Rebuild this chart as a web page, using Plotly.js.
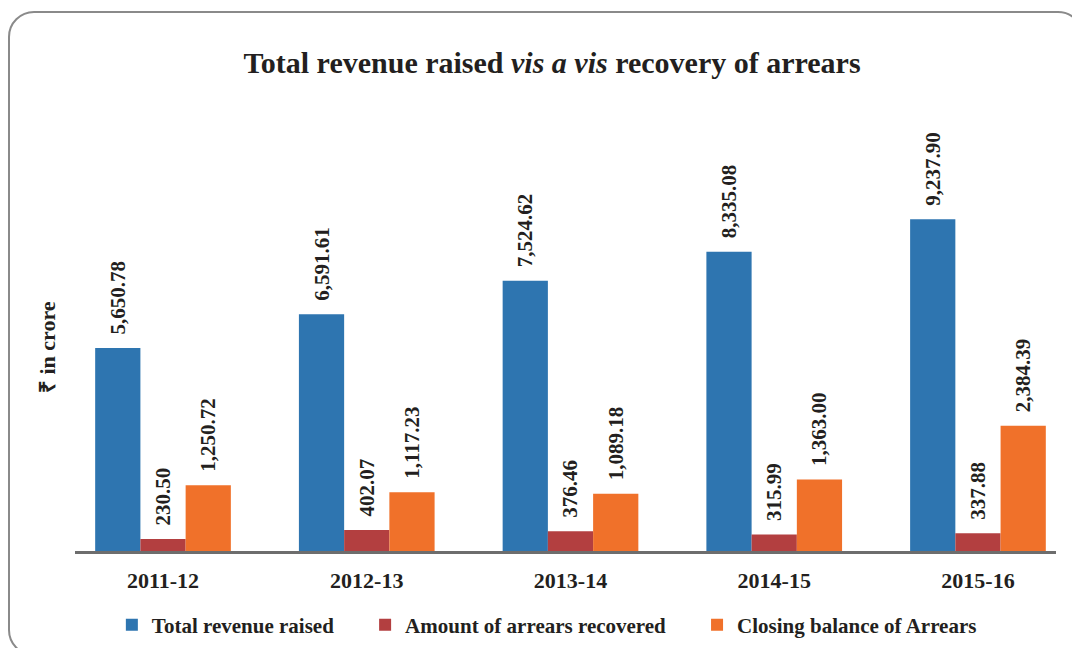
<!DOCTYPE html>
<html>
<head>
<meta charset="utf-8">
<script src="https://cdn.plot.ly/plotly-3.0.1.min.js"></script>
<style>
  html, body { margin: 0; padding: 0; background: #ffffff; }
  #wrap { position: relative; width: 1072px; height: 648px; overflow: hidden; }
  #frame { position: absolute; left: 8px; top: 11px; width: 1076px; height: 645px;
           border: 2.5px solid #8a8a8a; border-radius: 26px; box-sizing: border-box; }
  #chart { position: absolute; left: 0; top: 0; width: 1072px; height: 648px; }
</style>
</head>
<body>
<div id="wrap">
  <div id="frame"></div>
  <div id="chart"></div>
</div>
<script>
const categories = ["2011-12", "2012-13", "2013-14", "2014-15", "2015-16"];
const totalRevenue = [5650.78, 6591.61, 7524.62, 8335.08, 9237.90];
const arrearsRecovered = [230.50, 402.07, 376.46, 315.99, 337.88];
const closingBalance = [1250.72, 1117.23, 1089.18, 1363.00, 2384.39];
const seriesNames = ["Total revenue raised", "Amount of arrears recovered", "Closing balance of Arrears"];
const seriesColors = ["#2e75b0", "#b33f40", "#f0712a"];

const fmt = v => v.toLocaleString("en-US", {minimumFractionDigits: 2, maximumFractionDigits: 2});
const serif = "Liberation Serif";
const ink = "#231f20";
const NB = "\u00a0";

// the reference draws the small series on a larger scale than the revenue bars
const seriesValues = [totalRevenue, arrearsRecovered, closingBalance];
const seriesAxis = ["y", "y2", "y2"];
const barW = 0.222;
const traces = seriesValues.map((vals, i) => ({
  type: "bar",
  name: seriesNames[i] + (i < seriesNames.length - 1 ? NB.repeat(5) : ""),
  x: categories,
  y: vals,
  yaxis: seriesAxis[i],
  width: barW,
  offset: -1.5 * barW + i * barW,
  text: vals.map(v => NB + NB + fmt(v)),
  texttemplate: "%{text}",
  textposition: "outside",
  textangle: -90,
  constraintext: "none",
  cliponaxis: false,
  outsidetextfont: {family: serif, size: 21, color: ink, weight: "bold"},
  marker: {color: seriesColors[i], line: {width: 0}},
  hoverinfo: "skip"
}));

const layout = {
  width: 1072, height: 648,
  paper_bgcolor: "rgba(0,0,0,0)",
  plot_bgcolor: "rgba(0,0,0,0)",
  margin: {l: 75, r: 16, t: 90, b: 97, autoexpand: false},
  barmode: "overlay",
  title: {
    text: "Total revenue raised <i>vis a vis</i> recovery of arrears",
    font: {family: serif, size: 30, color: ink, weight: "bold"},
    x: 0.515, xref: "container", xanchor: "center",
    y: 1 - 62/648, yref: "container", yanchor: "middle"
  },
  xaxis: {
    type: "category",
    range: [-0.432, 4.383],
    showline: true, linecolor: "#6d6d6d", linewidth: 2.5,
    ticks: "", showgrid: false, zeroline: false,
    ticklabelstandoff: 8,
    tickfont: {family: serif, size: 22, color: ink, weight: "bold"}
  },
  yaxis: {
    range: [0, 12840],
    showline: false, showgrid: false, zeroline: false,
    showticklabels: false, ticks: ""
  },
  yaxis2: {
    overlaying: "y", side: "right",
    range: [0, 8780],
    showline: false, showgrid: false, zeroline: false,
    showticklabels: false, ticks: ""
  },
  showlegend: true,
  legend: {
    orientation: "h",
    x: 0.481, xanchor: "center",
    y: -0.1605, yanchor: "middle",
    font: {family: serif, size: 21, color: ink, weight: "bold"},
    itemclick: false, itemdoubleclick: false,
    traceorder: "normal"
  },
  annotations: [{
    text: "₹ in crore",
    xref: "paper", yref: "paper",
    x: -0.0285, y: 0.4425,
    xanchor: "center", yanchor: "middle",
    textangle: -90, showarrow: false,
    font: {family: serif, size: 22, color: ink, weight: "bold"}
  }]
};

Plotly.newPlot("chart", traces, layout, {displayModeBar: false, staticPlot: true});
</script>
</body>
</html>
